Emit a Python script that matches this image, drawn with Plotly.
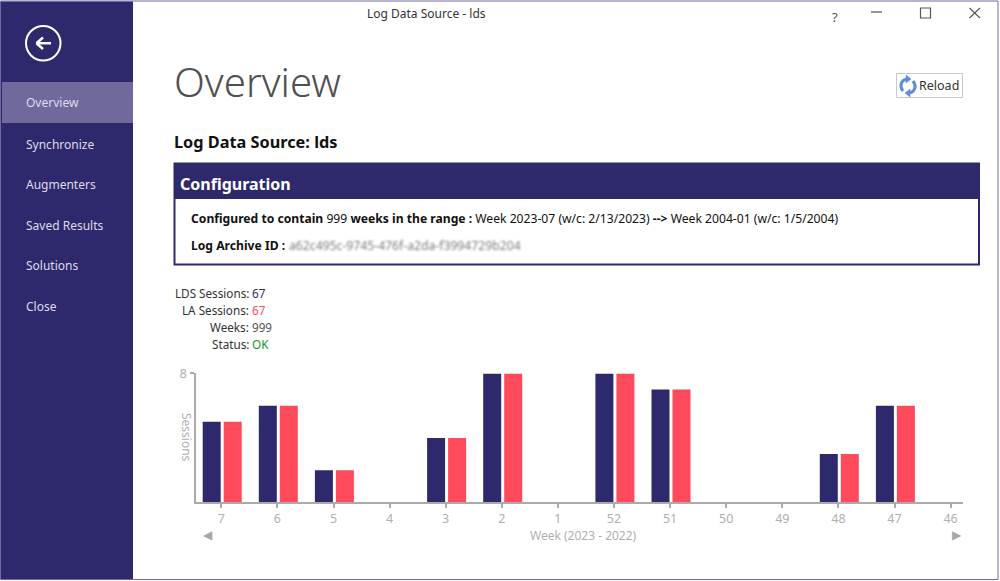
import plotly.graph_objects as go

# ---- data ----
weeks = ["7", "6", "5", "4", "3", "2", "1", "52", "51", "50", "49", "48", "47", "46"]
lds_sessions = [5, 6, 2, 0, 4, 8, 0, 8, 7, 0, 0, 3, 6, 0]
la_sessions = [5, 6, 2, 0, 4, 8, 0, 8, 7, 0, 0, 3, 6, 0]
menu_items = ["Overview", "Synchronize", "Augmenters", "Saved Results", "Solutions", "Close"]
stat_labels = ["LDS Sessions:", "LA Sessions:", "Weeks:", "Status:"]
stat_values = ["67", "67", "999", "OK"]

# ---- style ----
W, H = 1000, 581
NAVY = "#2E286D"
RED = "#FF4A5C"
AXIS = "#ABABAB"
MUTED = "#B0B0B0"
FONT = "Noto Sans"
PLOT_L, PLOT_R, PLOT_T, PLOT_B = 195.5, 962.7, 373.4, 502.4
UNIT = 56.1
BAR_W = 18 / UNIT

def X(p):
    return p / W

def Y(p):
    return 1 - p / H

fig = go.Figure()
fig.add_bar(x=weeks, y=lds_sessions, name="LDS Sessions", marker_color=NAVY, marker_line_width=0,
            width=BAR_W, offset=-18.6 / UNIT)
fig.add_bar(x=weeks, y=la_sessions, name="LA Sessions", marker_color=RED, marker_line_width=0,
            width=BAR_W, offset=2.4 / UNIT)

shapes = []
annotations = []

def rect(x0, y0, x1, y1, fill=None, line=None, lw=1, layer="below"):
    shapes.append(dict(type="rect", xref="paper", yref="paper", x0=X(x0), x1=X(x1), y0=Y(y0), y1=Y(y1),
                       fillcolor=fill or "rgba(0,0,0,0)",
                       line=dict(color=line or "rgba(0,0,0,0)", width=lw if line else 0), layer=layer))

def seg(x0, y0, x1, y1, color, lw=1.5, layer="above"):
    shapes.append(dict(type="line", xref="paper", yref="paper", x0=X(x0), x1=X(x1), y0=Y(y0), y1=Y(y1),
                       line=dict(color=color, width=lw), layer=layer))

def text(x, y, s, size=12.5, color="#222222", anchor="left", weight=None, family=FONT, angle=0):
    f = dict(size=size, color=color, family=family)
    if weight:
        f["weight"] = weight
    annotations.append(dict(x=X(x), y=Y(y), xref="paper", yref="paper", text=s, showarrow=False,
                            xanchor=anchor, yanchor="middle", font=f, textangle=angle,
                            borderpad=0, borderwidth=0))

# window border
rect(0.5, 1, 998, 579.5, fill="#FFFFFF", line="#6F6A9E", lw=1)
# sidebar
rect(1, 1.5, 133, 579, fill=NAVY)
rect(2, 82, 133, 123, fill="#6F6A9B")
for item, y in zip(menu_items, [103, 144, 185, 225, 266, 306]):
    text(26, y, item, size=12, color="#DEDCEB")
# back button
shapes.append(dict(type="circle", xref="paper", yref="paper", x0=X(26), x1=X(60.5), y0=Y(60.5), y1=Y(26),
                   line=dict(color="#FFFFFF", width=2), fillcolor="rgba(0,0,0,0)"))
seg(36.5, 43.2, 51, 43.2, "#FFFFFF", 2.5)
seg(36.5, 43.2, 43, 37.5, "#FFFFFF", 2.5)
seg(36.5, 43.2, 43, 49, "#FFFFFF", 2.5)
# title bar
text(426.5, 13.5, "Log Data Source - lds", size=12, color="#333333", anchor="center")
text(835, 17, "?", size=13, color="#555555", anchor="center")
seg(871, 12, 882, 12, "#555555", 1.2)
rect(920.5, 8, 930.5, 18, line="#555555", lw=1.2, layer="above")
seg(969.5, 8, 980, 18, "#555555", 1.1)
seg(980, 8, 969.5, 18, "#555555", 1.1)
# heading
text(174, 82, "Overview", size=40.2, color="#505050", weight=300)
# reload button
rect(896.5, 73.5, 962.5, 97.5, fill="#FFFFFF", line="#C9C9C9", lw=1)

def icon_path(cmds, closed=False, color="#5C8FD8", lw=3.0):
    parts = []
    for c, pts in cmds:
        parts.append(c + " " + " ".join(f"{px / W},{1 - py / H}" for px, py in pts))
    shapes.append(dict(type="path", xref="paper", yref="paper",
                       path=" ".join(parts) + (" Z" if closed else ""),
                       line=dict(color=color, width=lw),
                       fillcolor=color if closed else "rgba(0,0,0,0)", layer="above"))

icon_path([("M", [(903, 91)]), ("C", [(899, 86), (901, 80), (907, 79)])])
icon_path([("M", [(913, 81)]), ("C", [(917, 86), (915, 92), (909, 93)])])
icon_path([("M", [(906, 75)]), ("L", [(911, 79)]), ("L", [(906, 83)])], closed=True, lw=0.5)
icon_path([("M", [(910, 89)]), ("L", [(905, 93)]), ("L", [(910, 97)])], closed=True, lw=0.5)
text(919, 86, "Reload", size=12.5, color="#333333")
# section title
text(174, 142, "Log Data Source: lds", size=16.3, color="#111111", weight=700)
# configuration box
rect(174.5, 163.5, 979, 264.5, fill="#FFFFFF", line=NAVY, lw=2)
rect(174.5, 163.5, 979, 199, fill=NAVY)
text(180, 184, "Configuration", size=16, color="#FFFFFF", weight=700)
text(191, 218, "<b>Configured to contain</b> 999 <b>weeks in the range :</b> Week 2023-07 (w/c: 2/13/2023) "
     "<b>--></b> Week 2004-01 (w/c: 1/5/2004)", size=12.15, color="#111111")
text(191, 245, "<b>Log Archive ID :</b>", size=12.15, color="#111111")
text(289, 245, "a62c495c-9745-476f-a2da-f3994729b204", size=12.2, color="#7C7C7C")
# stats
for label, value, col, y in zip(stat_labels, stat_values, [NAVY, RED, "#555555", "#0A9A2A"], [293, 310, 327, 344]):
    text(249, y, label, size=11.7, color="#333333", anchor="right")
    text(252, y, value, size=11.7, color=col)
# chart furniture
text(187, 437, "Sessions", size=12, color=MUTED, anchor="center", angle=90)
text(583, 535, "Week (2023 - 2022)", size=12, color=MUTED, anchor="center")
text(208, 535, "◀", size=12, color="#A8A8A8", anchor="center", family="DejaVu Sans")
text(957, 535, "▶", size=12, color="#A8A8A8", anchor="center", family="DejaVu Sans")

fig.update_layout(
    width=W, height=H, autosize=False,
    margin=dict(l=0, r=0, t=0, b=0, pad=0),
    paper_bgcolor="#FFFFFF", plot_bgcolor="rgba(0,0,0,0)",
    barmode="overlay", showlegend=False,
    font=dict(family=FONT),
    shapes=shapes, annotations=annotations,
    xaxis=dict(domain=[X(PLOT_L), X(PLOT_R)], type="category", categoryorder="array", categoryarray=weeks,
               range=[-(221.3 - PLOT_L) / UNIT, (PLOT_R - 221.3) / UNIT], automargin=False,
               showgrid=False, zeroline=False, showline=True, linecolor=AXIS, linewidth=2,
               ticks="outside", ticklen=4, tickwidth=1.5, tickcolor=AXIS,
               tickfont=dict(size=12.5, color=MUTED, family=FONT), tickangle=0),
    yaxis=dict(domain=[Y(PLOT_B), Y(PLOT_T)], range=[0, 8], tickvals=[8], ticktext=["8"], automargin=False,
               showgrid=False, zeroline=False, showline=True, linecolor=AXIS, linewidth=2,
               ticks="outside", ticklen=4, tickwidth=1.5, tickcolor=AXIS,
               tickfont=dict(size=13, color=MUTED, family=FONT)),
)

post = """
document.body.style.margin='0';
document.body.style.overflow='hidden';
document.querySelectorAll('.annotation-text').forEach(function(t){
  if(t.textContent.indexOf('a62c495c')===0){t.style.filter='blur(1.3px)';}
});
"""
fig.write_html("out.html", post_script=post, config=dict(displayModeBar=False))
